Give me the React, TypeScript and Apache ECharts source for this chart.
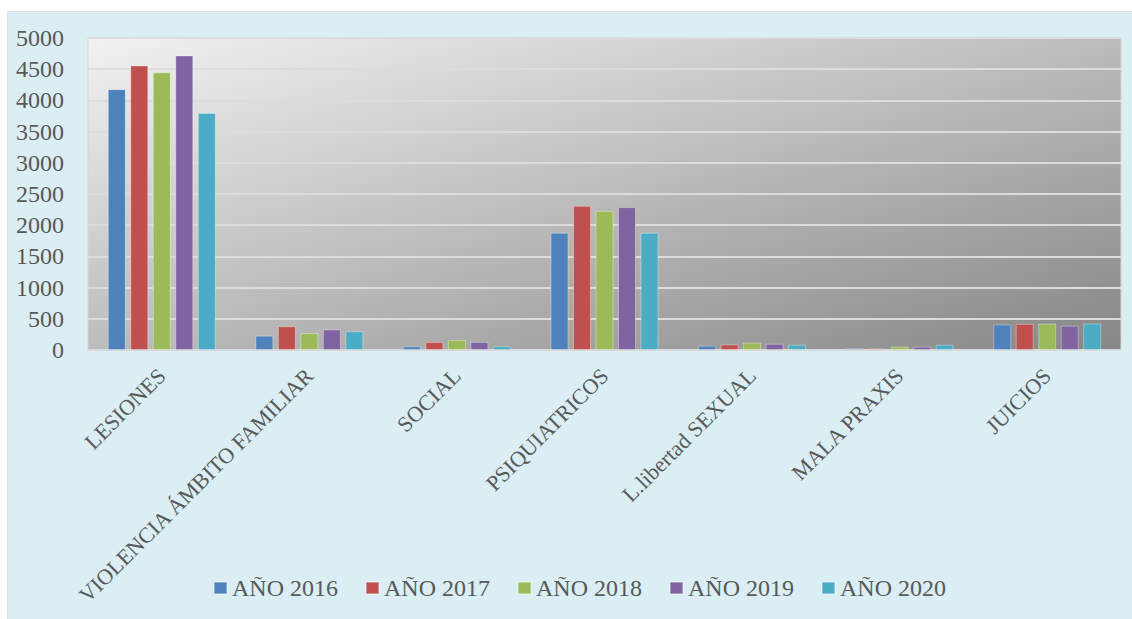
import React, { useEffect, useRef } from "react";
import * as echarts from "echarts";

const categories = [
  "LESIONES",
  "VIOLENCIA ÁMBITO FAMILIAR",
  "SOCIAL",
  "PSIQUIATRICOS",
  "L.libertad SEXUAL",
  "MALA PRAXIS",
  "JUICIOS",
];
const seriesNames = ["AÑO 2016", "AÑO 2017", "AÑO 2018", "AÑO 2019", "AÑO 2020"];
const y2016 = [4180, 230, 60, 1880, 70, 30, 410];
const y2017 = [4560, 380, 130, 2310, 90, 25, 420];
const y2018 = [4450, 270, 160, 2230, 120, 55, 425];
const y2019 = [4720, 330, 130, 2290, 100, 55, 390];
const y2020 = [3800, 300, 60, 1880, 85, 85, 425];
const seriesValues = [y2016, y2017, y2018, y2019, y2020];
const colors = ["#4f81bd", "#c0504d", "#9bbb59", "#8064a2", "#4bacc6"];
const yTicks = { min: 0, max: 5000, interval: 500 };

const FONT = "Liberation Serif";
const TEXT = "#595959";

export default function App() {
  const ref = useRef<HTMLDivElement>(null);
  useEffect(() => {
    if (!ref.current) return;
    const chart = echarts.init(ref.current, undefined, { renderer: "svg" });
    chart.setOption({
      animation: false,
      backgroundColor: "transparent",
      color: colors,
      textStyle: { fontFamily: FONT },
      legend: {
        data: seriesNames,
        left: 213,
        top: 576,
        icon: "rect",
        itemWidth: 13,
        itemHeight: 12,
        itemGap: 27,
        padding: 0,
        textStyle: { color: TEXT, fontFamily: FONT, fontSize: 24 },
      },
      grid: {
        left: 88,
        right: 11,
        top: 38,
        bottom: 269,
        show: true,
        borderColor: "#d6d6d6",
        borderWidth: 1,
        backgroundColor: {
          type: "linear",
          x: 0,
          y: 0,
          x2: 1,
          y2: 1,
          colorStops: [
            { offset: 0, color: "#f2f2f2" },
            { offset: 1, color: "#868686" },
          ],
        },
      },
      xAxis: {
        type: "category",
        data: categories,
        axisLine: { show: true, lineStyle: { color: "#d9d9d9", width: 2 } },
        axisTick: { show: false },
        axisLabel: {
          rotate: 45,
          interval: 0,
          margin: 22,
          color: TEXT,
          fontFamily: FONT,
          fontSize: 22,
        },
      },
      yAxis: {
        type: "value",
        min: yTicks.min,
        max: yTicks.max,
        interval: yTicks.interval,
        axisLine: { show: false },
        axisTick: { show: false },
        splitLine: { show: true, lineStyle: { color: "#dcdcdc", width: 2 } },
        axisLabel: {
          margin: 24,
          color: TEXT,
          fontFamily: FONT,
          fontSize: 24,
          formatter: (v: number) => String(v),
        },
      },
      series: seriesNames.map((name, i) => ({
        type: "bar",
        name,
        data: seriesValues[i],
        barWidth: 18,
        barGap: "25%",
        itemStyle: {
          color: colors[i],
          borderColor: "rgba(255,255,255,0.35)",
          borderWidth: 1,
        },
      })),
    });
    return () => chart.dispose();
  }, []);

  return (
    <div style={{ position: "absolute", left: 0, top: 0, width: 1132, height: 619, background: "#ffffff" }}>
      <div
        style={{
          position: "absolute",
          left: 7,
          top: 11,
          right: 0,
          bottom: 0,
          background: "#daeef3",
          borderLeft: "1px solid #e2dde8",
          borderTop: "1px solid #e2dde8",
        }}
      />
      <div ref={ref} style={{ position: "absolute", left: 0, top: 0, width: 1132, height: 619 }} />
    </div>
  );
}
